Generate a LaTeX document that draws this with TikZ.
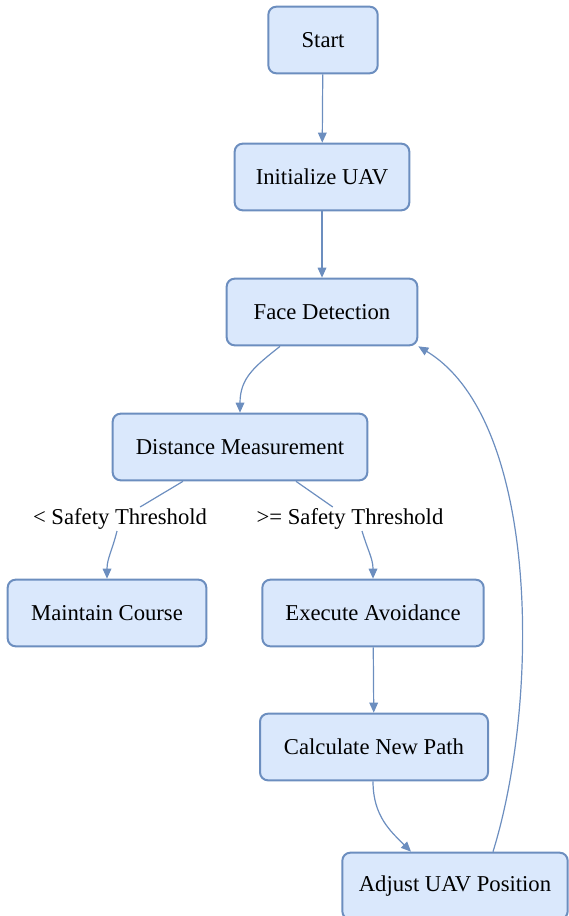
\documentclass[tikz,border=0pt]{standalone}
\usepackage{fontspec}
\setmainfont{Liberation Serif}
\usetikzlibrary{arrows.meta}
\definecolor{boxfill}{HTML}{DAE8FC}
\definecolor{boxline}{HTML}{6C8EBF}

\begin{document}
\begin{tikzpicture}[x=0.75pt, y=-0.75pt,
  box/.style={draw=boxline, fill=boxfill, line width=1.5pt, rounded corners=6pt,
    font=\fontsize{17}{20}\selectfont, minimum height=50pt},
  cond/.style={fill=white, inner sep=1pt, font=\fontsize{17}{20}\selectfont},
  link/.style={draw=boxline, line width=0.9pt},
  flow/.style={link, -{Triangle[length=7.5pt,width=6.5pt]}}]
  \useasboundingbox (0,0) rectangle (568,916);
  \node[box, minimum width=82pt] (start) at (323,40) {Start};
  \node[box, minimum width=131pt] (init) at (322,177) {Initialize UAV};
  \node[box, minimum width=143pt] (face) at (322,312) {Face Detection};
  \node[box, minimum width=191pt] (dist) at (240,447) {Distance Measurement};
  \node[box, minimum width=149pt] (keep) at (107,613) {Maintain Course};
  \node[box, minimum width=166pt] (avoid) at (373,613) {Execute Avoidance};
  \node[box, minimum width=171pt] (path) at (374,747) {Calculate New Path};
  \node[box, minimum width=169pt] (adjust) at (455,886) {Adjust UAV Position};
  \node[cond] (below) at (120,519) {< Safety Threshold};
  \node[cond] (above) at (350,519) {>= Safety Threshold};
  \draw[flow] (start) -- (init);
  \draw[flow] (init) -- (face);
  \draw[flow] (face.south -| 280,0) .. controls +(-25,20) and +(0,-35) .. (dist.north);
  \draw[link] (dist.south -| 183,0) -- (below);
  \draw[flow] (below.south -| 117,0) .. controls +(-5,20) and +(0,-20) .. (keep.north);
  \draw[link] (dist.south -| 296,0) -- (above);
  \draw[flow] (above.south -| 362,0) .. controls +(6,20) and +(0,-20) .. (avoid.north);
  \draw[flow] (avoid) -- (path);
  \draw[flow] (path.south -| 373,0) .. controls +(0,35) and +(-20,-20) .. (adjust.north -| 411,0);
  \draw[flow] (adjust.north -| 493,0) .. controls (540,700) and (540,420) .. (face.south east);
\end{tikzpicture}
\end{document}
